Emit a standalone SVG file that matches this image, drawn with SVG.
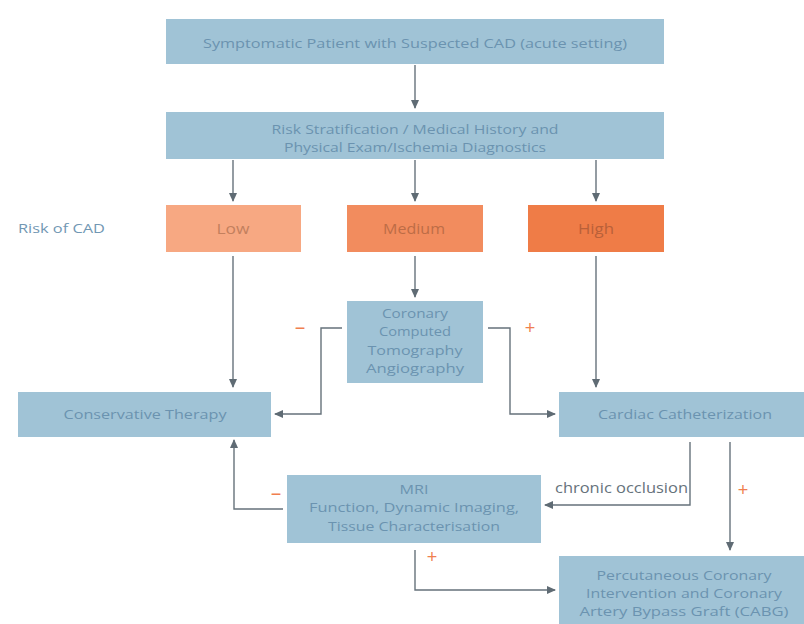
<svg xmlns="http://www.w3.org/2000/svg" width="804" height="624" viewBox="0 0 804 624">
<defs>
<marker id="ah" markerUnits="userSpaceOnUse" markerWidth="9" markerHeight="8" refX="8" refY="4" orient="auto">
<path d="M0,0 L9,4 L0,8 Z" fill="#5f6b74"/>
</marker>
</defs>
<style>
.box{fill:#a0c3d6;}
.t{font-family:"Open Sans","Liberation Sans",sans-serif;font-size:13px;fill:#6b93b0;text-anchor:middle;}
.rt{font-family:"Open Sans","Liberation Sans",sans-serif;font-size:14px;text-anchor:middle;}
.c{fill:none;stroke:#66727b;stroke-width:1.4;}
.sign{font-family:"Liberation Sans",sans-serif;font-size:18px;fill:#f07f50;text-anchor:middle;}
.lbl{font-family:"Open Sans","Liberation Sans",sans-serif;font-size:14px;fill:#66727b;}
</style>
<rect width="804" height="624" fill="#ffffff"/>
<g id="connectors">
<path class="c" d="M415,65 V108" marker-end="url(#ah)"/>
<path class="c" d="M233,160 V201" marker-end="url(#ah)"/>
<path class="c" d="M415,160 V201" marker-end="url(#ah)"/>
<path class="c" d="M596,160 V201" marker-end="url(#ah)"/>
<path class="c" d="M233,256 V387" marker-end="url(#ah)"/>
<path class="c" d="M415,256 V297" marker-end="url(#ah)"/>
<path class="c" d="M596,256 V387" marker-end="url(#ah)"/>
<path class="c" d="M342,328 H321 V414 H275" marker-end="url(#ah)"/>
<path class="c" d="M488,328 H510 V414 H555" marker-end="url(#ah)"/>
<path class="c" d="M690,442 V505 H545" marker-end="url(#ah)"/>
<path class="c" d="M730,442 V550" marker-end="url(#ah)"/>
<path class="c" d="M283,509 H234 V440" marker-end="url(#ah)"/>
<path class="c" d="M415,550 V590 H555" marker-end="url(#ah)"/>
<text class="sign" x="300" y="334">−</text>
<text class="sign" x="530" y="334">+</text>
<text class="sign" x="276" y="500">−</text>
<text class="sign" x="743" y="496">+</text>
<text class="sign" x="432" y="563">+</text>
<text class="lbl" x="555" y="493" textLength="133" lengthAdjust="spacingAndGlyphs">chronic occlusion</text>
</g>
<g id="symptomatic">
<rect class="box" x="166" y="19" width="498" height="45"/>
<text class="t" x="415" y="48" textLength="424" lengthAdjust="spacingAndGlyphs">Symptomatic Patient with Suspected CAD (acute setting)</text>
</g>
<g id="risk-strat">
<rect class="box" x="166" y="112" width="498" height="47"/>
<text class="t" x="415" y="134" textLength="287" lengthAdjust="spacingAndGlyphs">Risk Stratification / Medical History and</text>
<text class="t" x="415" y="152" textLength="262" lengthAdjust="spacingAndGlyphs">Physical Exam/Ischemia Diagnostics</text>
</g>
<g id="risk-label">
<text class="t" x="18" y="233" style="text-anchor:start;fill:#7197b3" textLength="87" lengthAdjust="spacingAndGlyphs">Risk of CAD</text>
</g>
<g id="low">
<rect x="166" y="205" width="135" height="47" fill="#f7a882"/>
<text class="rt" x="233" y="234" fill="#c3805e" textLength="33" lengthAdjust="spacingAndGlyphs">Low</text>
</g>
<g id="medium">
<rect x="347" y="205" width="136" height="47" fill="#f28c5e"/>
<text class="rt" x="414" y="234" fill="#bd6c46" textLength="62" lengthAdjust="spacingAndGlyphs">Medium</text>
</g>
<g id="high">
<rect x="528" y="205" width="136" height="47" fill="#ef7c47"/>
<text class="rt" x="596" y="234" fill="#b96039" textLength="36" lengthAdjust="spacingAndGlyphs">High</text>
</g>
<g id="ccta">
<rect class="box" x="347" y="301" width="136" height="82"/>
<text class="t" x="415" y="318" textLength="66" lengthAdjust="spacingAndGlyphs">Coronary</text>
<text class="t" x="415" y="336" textLength="72" lengthAdjust="spacingAndGlyphs">Computed</text>
<text class="t" x="415" y="355" textLength="95" lengthAdjust="spacingAndGlyphs">Tomography</text>
<text class="t" x="415" y="373" textLength="98" lengthAdjust="spacingAndGlyphs">Angiography</text>
</g>
<g id="conservative">
<rect class="box" x="18" y="392" width="253" height="45"/>
<text class="t" x="145" y="419" textLength="163" lengthAdjust="spacingAndGlyphs">Conservative Therapy</text>
</g>
<g id="cath">
<rect class="box" x="559" y="392" width="245" height="45"/>
<text class="t" x="685" y="419" textLength="174" lengthAdjust="spacingAndGlyphs">Cardiac Catheterization</text>
</g>
<g id="mri">
<rect class="box" x="287" y="475" width="254" height="68"/>
<text class="t" x="414" y="494" textLength="29" lengthAdjust="spacingAndGlyphs">MRI</text>
<text class="t" x="414" y="512" textLength="210" lengthAdjust="spacingAndGlyphs">Function, Dynamic Imaging,</text>
<text class="t" x="414" y="531" textLength="172" lengthAdjust="spacingAndGlyphs">Tissue Characterisation</text>
</g>
<g id="pci">
<rect class="box" x="559" y="556" width="245" height="68"/>
<text class="t" x="684" y="580" textLength="175" lengthAdjust="spacingAndGlyphs">Percutaneous Coronary</text>
<text class="t" x="684" y="598" textLength="196" lengthAdjust="spacingAndGlyphs">Intervention and Coronary</text>
<text class="t" x="684" y="616" textLength="209" lengthAdjust="spacingAndGlyphs">Artery Bypass Graft (CABG)</text>
</g>
</svg>
